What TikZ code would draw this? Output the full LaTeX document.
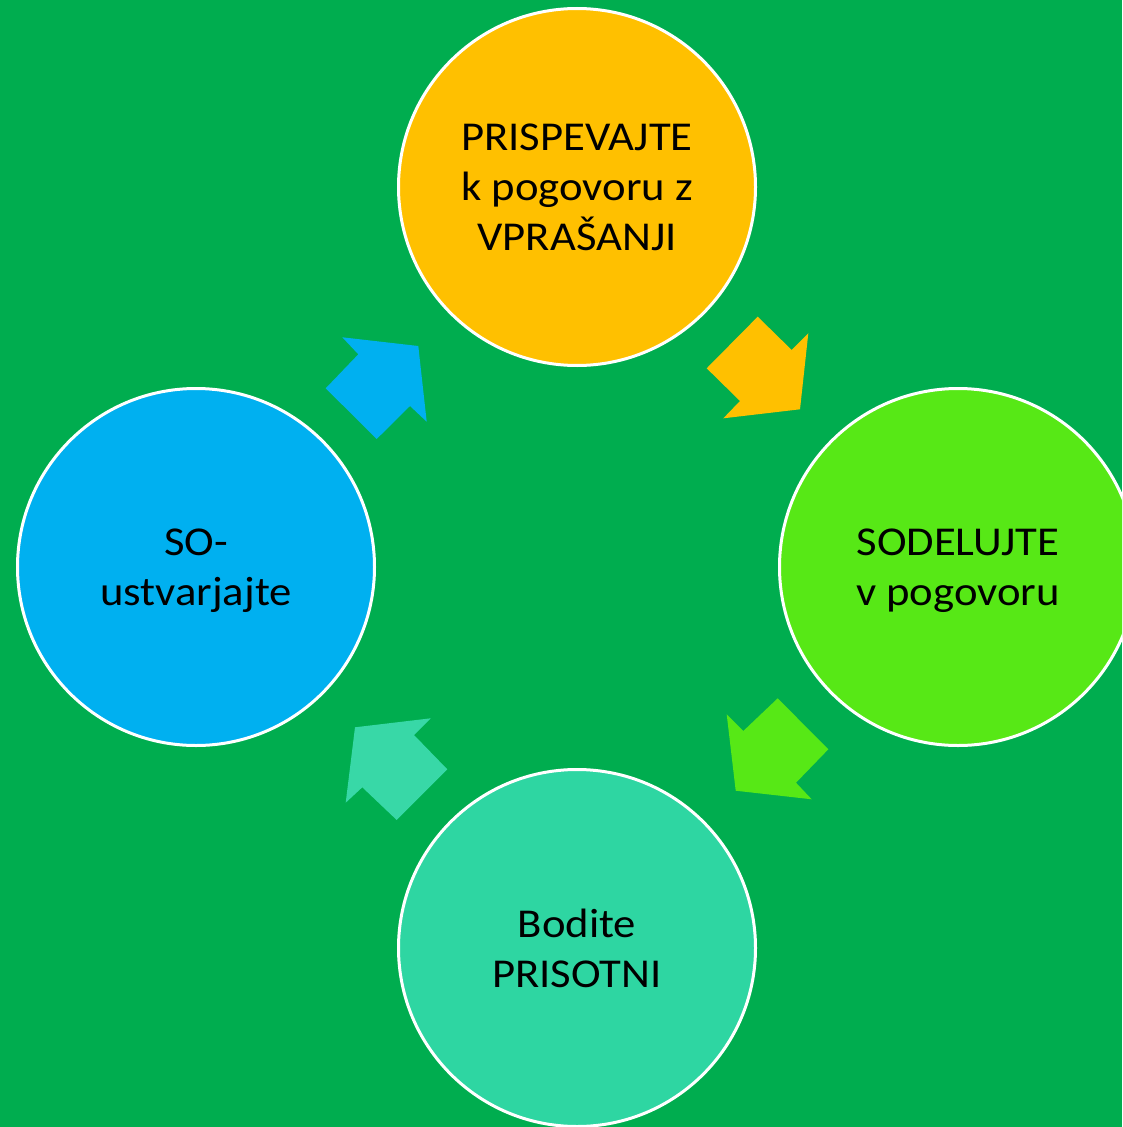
\documentclass[tikz,border=0pt]{standalone}
\usepackage{fontspec}
\setmainfont[FakeStretch=1.09]{Carlito}
\usepackage{tikz}
\usetikzlibrary{positioning}
\definecolor{bgreen}{RGB}{0,173,79}
\definecolor{corange}{RGB}{255,192,0}
\definecolor{clime}{RGB}{87,232,22}
\definecolor{cteal}{RGB}{46,214,162}
\definecolor{cblue}{RGB}{0,176,240}
\tikzstyle{stage}=[circle,draw=white,line width=2.25pt,minimum size=267.75pt,
                inner sep=0pt,align=center,text=black,
                font=\fontsize{30.75}{37.5}\selectfont]
\tikzstyle{flat}=[text depth=0pt]
\tikzstyle{turn}=[draw=none]
\begin{document}
\begin{tikzpicture}[x=0.75pt,y=-0.75pt]
\useasboundingbox (0,0) rectangle (1122,1127);
\clip (0,0) rectangle (1122,1127);
\fill[bgreen] (0,0) rectangle (1122,1127);
\node[stage,fill=corange] (ask) at (577,187) {PRISPEVAJTE\\k pogovoru z\\VPRA\v{S}ANJI};
\node[stage,flat,fill=clime] (join) at (958,567) {SODELUJTE\\v pogovoru};
\node[stage,fill=cteal] (here) at (577,948) {Bodite\\PRISOTNI};
\node[stage,flat,fill=cblue] (make) at (196,567) {SO-\\ustvarjajte};
% arrows round the cycle
\fill[turn,corange] (757.7,316.7) -- (706.7,368.3) -- (740,401) -- (723.3,418.3)
  -- (800,409.3) -- (808.3,333.3) -- (791.7,350) -- cycle;
\fill[turn,clime] (777.7,698.3) -- (828.3,749.3) -- (796,782.7) -- (811.7,799.3)
  -- (735.7,790.7) -- (726.7,714.3) -- (743.3,731) -- cycle;
\fill[turn,cteal!95!white] (447.3,769.3) -- (396.7,820) -- (362.3,787.3) -- (345.7,802.7)
  -- (355,727.3) -- (430.7,718.3) -- (414,735) -- cycle;
\fill[turn,cblue] (376.7,439) -- (325.7,388.3) -- (358.3,354.3) -- (342.3,337.3)
  -- (418.3,346) -- (426.7,421.7) -- (410,406) -- cycle;
\end{tikzpicture}
\end{document}
